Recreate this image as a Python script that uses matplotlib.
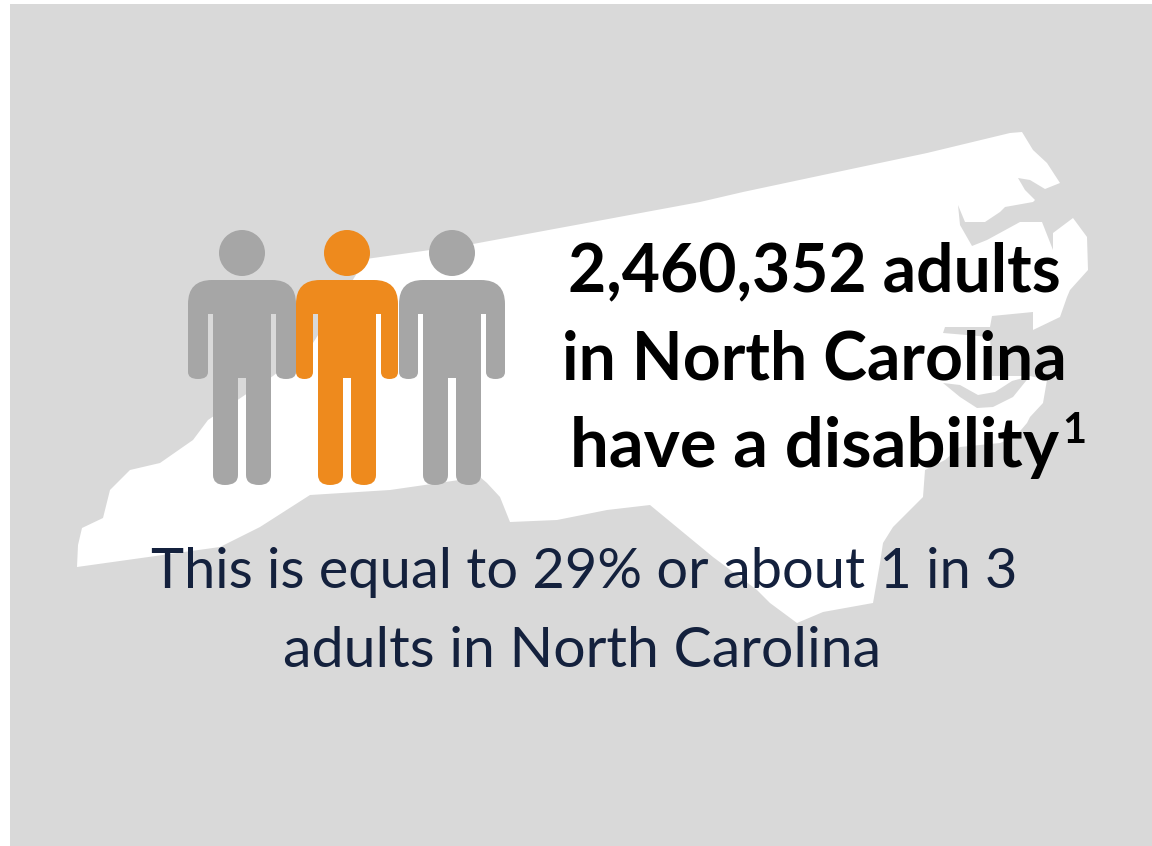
import matplotlib
matplotlib.use("Agg")
import matplotlib.pyplot as plt
from matplotlib.patches import Circle, PathPatch, Polygon, Rectangle
from matplotlib.path import Path


# ----------------------------
# CONTENT
# ----------------------------
headline_lines = ["2,460,352 adults", "in North Carolina", "have a disability"]
headline_note = "1"
detail_lines = ["This is equal to 29% or about 1 in 3", "adults in North Carolina"]

# one figure per group of three, the highlighted one stands for "1 in 3"
person_x = [242, 347, 452]
person_half_width = [54, 51, 53]
person_color = ["#a6a6a6", "#ee8a1d", "#a6a6a6"]

state_outline = [
    (77, 567), (78, 545), (82, 528), (103, 518), (110, 490), (130, 470),
    (160, 463), (193, 440), (208, 420), (273, 376), (313, 343), (366, 259),
    (473, 244), (700, 202), (743, 192), (823, 175), (927, 153), (1010, 133),
    (1022, 132), (1033, 150), (1047, 163), (1060, 183), (1045, 189),
    (1030, 180), (1018, 178), (1025, 190), (1035, 200), (1033, 202),
    (1005, 207), (1000, 212), (985, 222), (965, 222), (958, 205), (960, 225),
    (972, 246), (987, 240), (1020, 222), (1042, 222), (1053, 250), (1053, 233),
    (1073, 218), (1087, 237), (1088, 270), (1070, 290), (1067, 297),
    (1060, 317), (1033, 330), (1033, 312), (992, 316), (990, 327), (945, 327),
    (943, 333), (990, 337), (992, 376), (1030, 376), (1047, 380), (1043, 403),
    (1030, 417), (1027, 423), (1015, 437), (1000, 443), (960, 447), (945, 460),
    (925, 470), (923, 497), (913, 507), (893, 527), (883, 543), (880, 563),
    (873, 603), (823, 612), (797, 623), (770, 603), (757, 590), (713, 557),
    (650, 505), (607, 510), (557, 520), (510, 522), (500, 497), (487, 483),
    (480, 477), (390, 490), (310, 495), (260, 527), (220, 547), (127, 560),
]
sound_crescent = [
    (943, 383), (960, 385), (978, 395), (995, 392), (1012, 381), (1030, 376),
    (1013, 397), (993, 407), (977, 408), (960, 397),
]


def person_path(cx, half):
    # figure below the head: shoulders, arms, torso and two legs, y grows downward
    top, armpit, hand, crotch, foot = 280, 314, 379, 378, 485
    torso = 29
    gap = 4
    arm_in = torso + 5
    mid = (half + arm_in) / 2
    verts = [
        (cx - half + 24, top),
        (cx + half - 24, top),
        (cx + half, top), (cx + half, top + 24),
        (cx + half, hand - 7),
        (cx + half, hand), (cx + mid, hand),
        (cx + arm_in, hand), (cx + arm_in, hand - 7),
        (cx + arm_in, armpit),
        (cx + torso, armpit),
        (cx + torso, foot - 10),
        (cx + torso, foot), (cx + torso - 12, foot),
        (cx + gap, foot), (cx + gap, foot - 10),
        (cx + gap, crotch),
        (cx - gap, crotch),
        (cx - gap, foot - 10),
        (cx - gap, foot), (cx - torso + 12, foot),
        (cx - torso, foot), (cx - torso, foot - 10),
        (cx - torso, armpit),
        (cx - arm_in, armpit),
        (cx - arm_in, hand - 7),
        (cx - arm_in, hand), (cx - mid, hand),
        (cx - half, hand), (cx - half, hand - 7),
        (cx - half, top + 24),
        (cx - half, top), (cx - half + 24, top),
        (cx - half + 24, top),
    ]
    codes = [
        Path.MOVETO, Path.LINETO,
        Path.CURVE3, Path.CURVE3,
        Path.LINETO,
        Path.CURVE3, Path.CURVE3,
        Path.CURVE3, Path.CURVE3,
        Path.LINETO, Path.LINETO, Path.LINETO,
        Path.CURVE3, Path.CURVE3,
        Path.CURVE3, Path.CURVE3,
        Path.LINETO, Path.LINETO, Path.LINETO,
        Path.CURVE3, Path.CURVE3,
        Path.CURVE3, Path.CURVE3,
        Path.LINETO, Path.LINETO, Path.LINETO,
        Path.CURVE3, Path.CURVE3,
        Path.CURVE3, Path.CURVE3,
        Path.LINETO,
        Path.CURVE3, Path.CURVE3,
        Path.CLOSEPOLY,
    ]
    return Path(verts, codes)


def main():
    fig = plt.figure(figsize=(11.52, 8.46), dpi=100, facecolor="white")
    ax = fig.add_axes([0, 0, 1, 1])
    ax.set_xlim(0, 1152)
    ax.set_ylim(846, 0)
    ax.axis("off")

    # ----------------------------
    # PANEL AND STATE SHAPE
    # ----------------------------
    ax.add_patch(Rectangle((10, 4), 1142, 842, facecolor="#d9d9d9", edgecolor="none"))
    ax.add_patch(Polygon(state_outline, closed=True, facecolor="white", edgecolor="none"))
    ax.add_patch(Polygon(sound_crescent, closed=True, facecolor="#d9d9d9", edgecolor="none"))

    # ----------------------------
    # PEOPLE
    # ----------------------------
    for cx, half, color in zip(person_x, person_half_width, person_color):
        ax.add_patch(Circle((cx, 253), 23, facecolor=color, edgecolor="none"))
        ax.add_patch(PathPatch(person_path(cx, half), facecolor=color, edgecolor="none"))

    # ----------------------------
    # TEXT
    # ----------------------------
    for line, x, y, size in zip(headline_lines, [814, 814, 815], [291, 379, 467], [47.5, 47.5, 49.5]):
        ax.text(x, y, line, ha="center", va="baseline", family="Lato",
                fontweight="bold", fontsize=size, color="black")
    ax.text(1074, 443, headline_note, ha="center", va="baseline", family="Lato",
            fontweight="bold", fontsize=30, color="black")

    for line, x, y, size in zip(detail_lines, [584, 582], [588, 667], [40.2, 41.2]):
        ax.text(x, y, line, ha="center", va="baseline", family="Lato",
                fontsize=size, color="#14213d")

    fig.savefig("out.png", dpi=100, facecolor="white")
    plt.close(fig)


if __name__ == "__main__":
    main()
